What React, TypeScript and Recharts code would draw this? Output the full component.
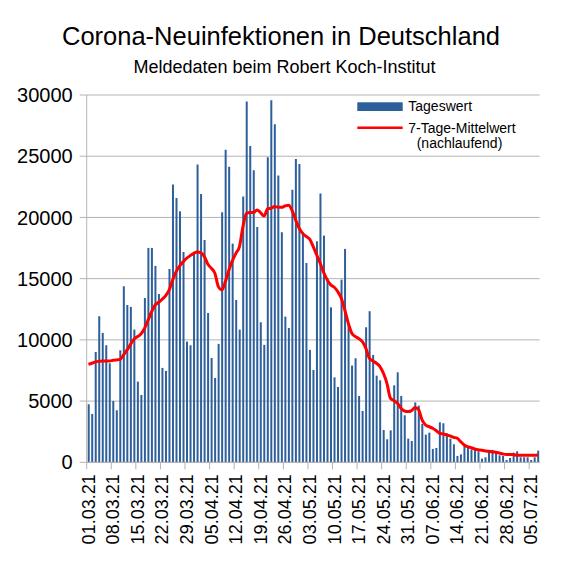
import { Bar, CartesianGrid, ComposedChart, Line, XAxis, YAxis } from "recharts";

// Tageswerte ab 01.03.21
const dailyCases = [
  4740, 3950, 9010, 11930, 10570, 9560, 8090, 5010, 4250, 9150, 14380, 12850, 12690, 10840, 6590, 5500,
  13420, 17510, 17510, 16040, 13750, 7710, 7460, 15790, 22680, 21590, 20500, 17180, 9860, 9560, 17200,
  24320, 21920, 18160, 12200, 8520, 6890, 9670, 20420, 25520, 24130, 17860, 13260, 10840, 21700, 29460, 25840,
  23850, 19220, 11440, 9590, 24920, 29570, 27610, 23420, 18790, 11900, 10970, 22270, 24780, 24370, 18790, 16280,
  9180, 7540, 18050, 21950, 18520, 15000, 12660, 6940, 6150, 14920, 17430, 11300, 7900, 8500, 5420, 4190,
  11030, 12340, 8770, 7080, 6700, 2640, 1880, 2610, 6290, 7350, 5420, 3840, 1930, 1740, 4890,
  4630, 3130, 2260, 2420, 1090, 1170, 3270, 3190, 2370, 1930, 1470, 520, 650, 1420, 1230, 1060, 1010, 900,
  300, 410, 980, 1010, 790, 570, 520, 190, 350, 790, 900, 410, 410, 410, 190, 410, 950,
];

const weeklyMean = [
  8010, 8090, 8200, 8250, 8280, 8280, 8280, 8330, 8360, 8410, 8770, 9180, 9640, 10080, 10270, 10500,
  10950, 11630, 12310, 12850, 13070, 13320, 13620, 14080, 14900, 15580, 16040, 16390, 16670, 16880, 17070,
  17180, 17130, 16800, 16180, 15850, 15440, 14350, 14080, 14760, 15710, 16470, 17070, 17620, 19250, 20340, 20400,
  20400, 20610, 20400, 20120, 20690, 20750, 20890, 20830, 20830, 20940, 20990, 20560, 19800, 19120, 18700, 18450,
  18220, 17620, 16940, 16260, 15490, 14900, 14490, 14300, 13940, 13400, 12440, 11360, 10540, 10270, 10100, 9850,
  9310, 8500, 8280, 8090, 7820, 7270, 6450, 5230, 5040, 4820, 4410, 4190, 4140, 4220, 4480,
  4300, 3460, 3050, 2910, 2780, 2590, 2370, 2320, 2230, 2150, 2040, 1960, 1690, 1420, 1280, 1200, 1090, 1020,
  980, 930, 900, 870, 820, 760, 680, 630, 630, 630, 570, 570, 570, 570, 570, 570, 600,
];

const yTicks = [0, 5000, 10000, 15000, 20000, 25000, 30000];

const pad = (n: number) => String(n).padStart(2, "0");
const days = dailyCases.map((_, i) => {
  const d = new Date(2021, 2, 1 + i);
  return `${pad(d.getDate())}.${pad(d.getMonth() + 1)}.21`;
});

const data = days.map((day, i) => ({
  day,
  cases: dailyCases[i],
  mean: weeklyMean[i],
}));

const FONT = "'Liberation Sans', Arial, sans-serif";
const GRID = "#b3b3b3";
const BLUE = "#2d5f9b";
const RED = "#ff0000";

const DayTick = (props: any) => {
  const { x, y, payload } = props;
  const edge = x - 1.76; // Tickstrich auf der Grenze zwischen zwei Tagen
  return (
    <g>
      <line x1={edge} x2={edge} y1={y} y2={y + 7} stroke={GRID} />
      <text
        x={x}
        y={y + 12}
        transform={`rotate(-90 ${x} ${y + 12})`}
        textAnchor="end"
        dy="0.35em"
        fontSize={18}
        fontFamily={FONT}
        fill="#000"
      >
        {payload.value}
      </text>
    </g>
  );
};

export default function App() {
  return (
    <div style={{ position: "absolute", left: 0, top: 0, width: 567, height: 567, background: "#fff" }}>
      <ComposedChart
        width={567}
        height={567}
        data={data}
        margin={{ top: 95, right: 27.3, bottom: 4.7, left: 6.7 }}
        barCategoryGap="40%"
      >
        <CartesianGrid yAxisId="left" vertical={false} stroke={GRID} />
        <XAxis
          dataKey="day"
          interval={6}
          height={100}
          tickLine={false}
          tickSize={0}
          tickMargin={0}
          axisLine={{ stroke: GRID }}
          tick={<DayTick />}
        />
        <YAxis
          yAxisId="left"
          width={80}
          domain={[0, 30000]}
          ticks={yTicks}
          interval={0}
          tickSize={7}
          tickMargin={7}
          axisLine={{ stroke: GRID }}
          tickLine={{ stroke: GRID }}
          tick={{ fontSize: 20, fill: "#000", fontFamily: FONT }}
        />
        <YAxis
          yAxisId="right"
          orientation="right"
          width={0}
          tick={false}
          tickLine={false}
          axisLine={{ stroke: GRID }}
        />
        <Bar yAxisId="left" dataKey="cases" fill={BLUE} barSize={2} isAnimationActive={false} />
        <Line
          yAxisId="left"
          type="monotone"
          dataKey="mean"
          stroke={RED}
          strokeWidth={3}
          dot={false}
          isAnimationActive={false}
        />
      </ComposedChart>

      <svg
        width={567}
        height={160}
        style={{ position: "absolute", left: 0, top: 0, pointerEvents: "none" }}
        fontFamily={FONT}
      >
        <text x={281} y={45} textAnchor="middle" fontSize={25.5}>
          Corona-Neuinfektionen in Deutschland
        </text>
        <text x={284.5} y={73} textAnchor="middle" fontSize={18}>
          Meldedaten beim Robert Koch-Institut
        </text>

        <rect x={357.3} y={102.3} width={45.4} height={8.7} fill={BLUE} />
        <text x={408.3} y={110.7} fontSize={14}>Tageswert</text>
        <line x1={357.3} x2={402.7} y1={127.7} y2={127.7} stroke={RED} strokeWidth={2.5} />
        <text x={408.3} y={132.7} fontSize={14}>7-Tage-Mittelwert</text>
        <text x={416.7} y={148} fontSize={14}>(nachlaufend)</text>
      </svg>
    </div>
  );
}
